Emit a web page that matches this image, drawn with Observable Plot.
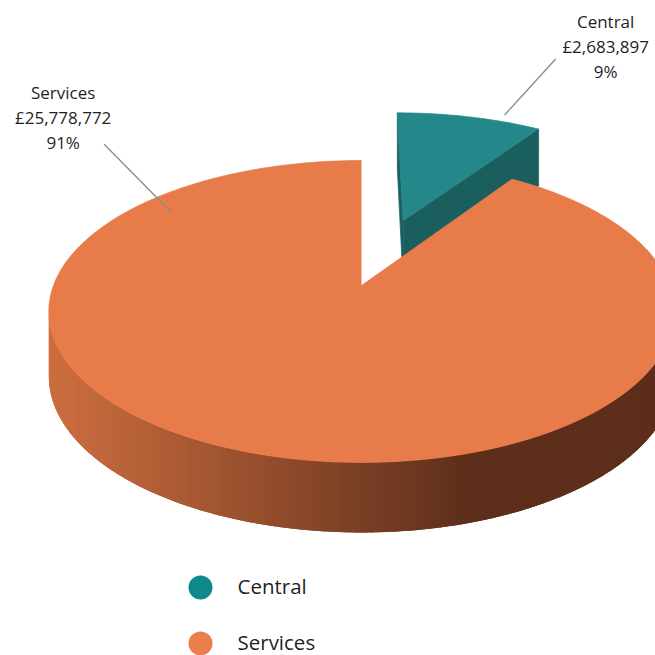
<!DOCTYPE html>
<html><head><meta charset="utf-8">
<script src="https://cdn.jsdelivr.net/npm/d3@7"></script>
<script src="https://cdn.jsdelivr.net/npm/@observablehq/plot@0.6"></script>
<style>html,body{margin:0;padding:0;background:#fff;overflow:hidden}</style>
</head><body><div id="chart"></div>
<script>
// ---- data ----
const categories = ["Central", "Services"];
const amounts = [2683897, 25778772];
const amountLabels = ["£2,683,897", "£25,778,772"];
const percentLabels = ["9%", "91%"];
const explodedSlices = ["Central"];

// ---- styles / layout ----
const W = 655, H = 655;
const topColors = {Central: "#24878A", Services: "#E87B4A"};
const sideColors = {Central: "#1B5E5E"};
const legendColors = {Central: "#0E898B", Services: "#EA7F4D"};
const sideLight = "#CB6D3F", sideDark = "#5D2E1B";
const cam = {cx: 361, cy: 285, sx: 308, sy: 146.5, k: 0.172, h: 63.7, k2: 0.09};
const explodeDist = 0.5;
// leader line: start on slice (polar angle deg, radius), end offset px, text offset px
const labelLayout = {
  Central: {ang: 24, r: 1.07, dx: 51, dy: -56, tx: 50, ty: -14},
  Services: {ang: 309, r: 0.87, dx: -67, dy: -68, tx: -41, ty: -28}
};

// ---- geometry ----
function project(X, Z, bottom) {
  const s = 1 / (1 + cam.k * Z);
  const px = cam.cx + cam.sx * X * s;
  const py = cam.cy - cam.sy * Z * s + (bottom ? cam.h / (1 + cam.k2 * Z) : 0);
  return [px, py];
}
const rad = d => d * Math.PI / 180;
const total = d3.sum(amounts);
let acc = 0;
const slices = categories.map((c, i) => {
  const a0 = acc / total * 2 * Math.PI;
  acc += amounts[i];
  const a1 = acc / total * 2 * Math.PI;
  const mid = (a0 + a1) / 2;
  const e = explodedSlices.includes(c) ? explodeDist : 0;
  return {c, a0, a1, ox: e * Math.sin(mid), oz: e * Math.cos(mid)};
});
function pt(sl, a, r, bottom) {
  return project(sl.ox + r * Math.sin(a), sl.oz + r * Math.cos(a), bottom);
}
function arc(sl, a0, a1, bottom) {
  const n = Math.max(2, Math.ceil(Math.abs(a1 - a0) / rad(1)));
  return d3.range(n + 1).map(i => pt(sl, a0 + (a1 - a0) * i / n, 1, bottom));
}
function poly(id, pts, fill) {
  return pts.map(([px, py]) => ({id, px, py, fill}));
}

const backFaces = [], frontSide = [], topFaces = [];
for (const sl of slices) {
  const apexT = pt(sl, 0, 0, false), apexB = pt(sl, 0, 0, true);
  if (sl.oz > 0) {
    const dark = sideColors[sl.c];
    backFaces.push(...poly(sl.c + "-f0", [apexT, pt(sl, sl.a0, 1, false), pt(sl, sl.a0, 1, true), apexB], dark));
    backFaces.push(...poly(sl.c + "-f1", [apexT, pt(sl, sl.a1, 1, false), pt(sl, sl.a1, 1, true), apexB], dark));
    backFaces.push(...poly(sl.c + "-top", [apexT, ...arc(sl, sl.a0, sl.a1, false)], topColors[sl.c]));
  } else {
    const step = rad(0.5);
    const shade = d3.interpolateRgb(sideLight, sideDark);
    for (let a = sl.a0; a < sl.a1 - 1e-9; a += step) {
      const b = Math.min(a + step, sl.a1);
      const t1 = pt(sl, a, 1, false), t2 = pt(sl, b, 1, false);
      const b2 = pt(sl, b, 1, true), b1 = pt(sl, a, 1, true);
      const q = [t1, t2, b2, b1];
      let area = 0;
      for (let j = 0; j < 4; j++) { const p = q[j], n = q[(j + 1) % 4]; area += p[0] * n[1] - n[0] * p[1]; }
      if (area >= 0) continue; // back-facing
      // extend each strip over its neighbour so no seams show
      const bx = Math.min(a + 2.5 * step, sl.a1);
      const ext = [t1, pt(sl, bx, 1, false), pt(sl, bx, 1, true), b1];
      const mx = (t1[0] + t2[0]) / 2;
      const t = Math.max(0, Math.min(1, (mx - 60) / (470 - 60)));
      frontSide.push(...poly(sl.c + "-s" + a.toFixed(5), ext, shade(t)));
    }
    topFaces.push(...poly(sl.c + "-top", [apexT, ...arc(sl, sl.a0, sl.a1, false)], topColors[sl.c]));
  }
}

const labels = slices.map((sl, i) => {
  const L = labelLayout[sl.c];
  const [x1, y1] = pt(sl, rad(L.ang), L.r, false);
  const x2 = x1 + L.dx, y2 = y1 + L.dy;
  return {x1, y1, x2, y2, tx: x2 + L.tx, ty: y2 + L.ty,
          text: categories[i] + "\n" + amountLabels[i] + "\n" + percentLabels[i]};
});
const legend = categories.map((c, i) => ({c, x: 200, y: 587 + i * 56, fill: legendColors[c]}));

const polyOpts = {x: "px", y: "py", z: "id", fill: "fill", stroke: "fill", strokeWidth: 0.7, curve: "linear"};

const chart = Plot.plot({
  width: W, height: H, margin: 0,
  style: {fontFamily: "'Open Sans', sans-serif", background: "#fff"},
  x: {type: "linear", domain: [0, W], range: [0, W], axis: null},
  y: {type: "linear", domain: [0, H], range: [0, H], axis: null},
  color: {type: "identity"},
  marks: [
    Plot.line(backFaces, polyOpts),
    Plot.line(frontSide, {x: "px", y: "py", z: "id", fill: "fill", stroke: null, curve: "linear"}),
    Plot.line(topFaces, polyOpts),
    Plot.link(labels, {x1: "x1", y1: "y1", x2: "x2", y2: "y2", stroke: "#8a8a8a", strokeWidth: 1.3}),
    Plot.text(labels, {x: "tx", y: "ty", text: "text", lineAnchor: "middle", lineHeight: 1.48,
      fontSize: 17, fill: "#1f1f1f", textAnchor: "middle"}),
    Plot.dot(legend, {x: "x", y: "y", r: 12, fill: "fill", stroke: null}),
    Plot.text(legend, {x: d => d.x + 37, y: "y", text: "c", textAnchor: "start", fontSize: 20.5, fill: "#1f1f1f"})
  ]
});
document.getElementById("chart").appendChild(chart);
</script>
</body></html>
